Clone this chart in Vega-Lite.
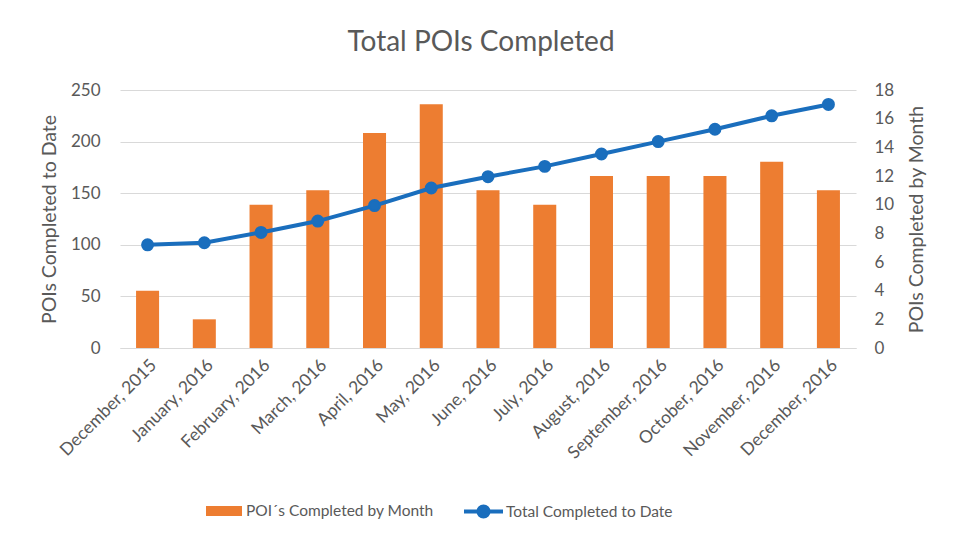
{
  "$schema": "https://vega.github.io/schema/vega-lite/v6.json",
  "width": 736,
  "height": 258,
  "autosize": {"type": "none"},
  "padding": {"left": 120, "top": 90, "right": 103, "bottom": 198},
  "background": "white",
  "config": {
    "font": "Lato",
    "view": {"stroke": null},
    "axis": {"labelFont": "Lato", "titleFont": "Lato", "labelColor": "#595959", "titleColor": "#595959", "titleFontWeight": "normal"}
  },
  "title": {"text": "Total POIs Completed", "fontSize": 28, "font": "Lato", "fontWeight": "normal", "color": "#595959", "offset": 24, "dx": -7},
  "data": {
    "values": [
      {"month": "December, 2015", "monthly": 4, "total": 100},
      {"month": "January, 2016", "monthly": 2, "total": 102},
      {"month": "February, 2016", "monthly": 10, "total": 112},
      {"month": "March, 2016", "monthly": 11, "total": 123},
      {"month": "April, 2016", "monthly": 15, "total": 138},
      {"month": "May, 2016", "monthly": 17, "total": 155},
      {"month": "June, 2016", "monthly": 11, "total": 166},
      {"month": "July, 2016", "monthly": 10, "total": 176},
      {"month": "August, 2016", "monthly": 12, "total": 188},
      {"month": "September, 2016", "monthly": 12, "total": 200},
      {"month": "October, 2016", "monthly": 12, "total": 212},
      {"month": "November, 2016", "monthly": 13, "total": 225},
      {"month": "December, 2016", "monthly": 11, "total": 236}
    ]
  },
  "encoding": {
    "x": {
      "field": "month", "type": "ordinal", "sort": null,
      "scale": {"paddingInner": 0.594, "paddingOuter": 0.283},
      "axis": {"title": null, "labelAngle": -45, "labelFontSize": 17.5, "labelPadding": 8, "ticks": false, "domainColor": "#d9d9d9", "domainWidth": 1, "grid": false}
    }
  },
  "layer": [
    {
      "mark": {"type": "bar", "color": "#ED7D31"},
      "encoding": {
        "y": {
          "field": "monthly", "type": "quantitative",
          "scale": {"domain": [0, 18], "nice": false},
          "axis": {"orient": "right", "title": "POIs Completed by Month", "titleAngle": -90, "titleBaseline": "top", "values": [0, 2, 4, 6, 8, 10, 12, 14, 16, 18], "grid": false, "domain": false, "ticks": false, "labelFontSize": 17, "labelPadding": 18, "titleFontSize": 19.5, "titlePadding": 14}
        },
        "fill": {
          "datum": "POI´s Completed by Month",
          "scale": {"range": ["#ED7D31"]},
          "legend": {"title": null, "orient": "none", "legendX": 86, "legendY": 403, "symbolType": "M-1,-0.28H1V0.28H-1Z", "symbolSize": 1296, "symbolStrokeWidth": 0, "labelFontSize": 15.5, "labelColor": "#595959", "labelOffset": 4, "labelFont": "Lato", "labelLimit": 400}
        }
      }
    },
    {
      "mark": {"type": "line", "color": "#1A6EBD", "strokeWidth": 4, "point": {"size": 120, "filled": true, "fill": "#1A6EBD"}},
      "encoding": {
        "y": {
          "field": "total", "type": "quantitative",
          "scale": {"domain": [0, 250], "nice": false},
          "axis": {"orient": "left", "title": "POIs Completed to Date", "values": [0, 50, 100, 150, 200, 250], "grid": true, "gridColor": "#d9d9d9", "gridWidth": 1, "domain": false, "ticks": false, "labelFontSize": 17, "labelPadding": 20, "titleFontSize": 19.5, "titlePadding": 11}
        },
        "stroke": {
          "datum": "Total Completed to Date",
          "scale": {"range": ["#1A6EBD"]},
          "legend": {"title": null, "orient": "none", "legendX": 342, "legendY": 400, "symbolType": "M-1,0H1M-0.26,0A0.26,0.26 0 1,0 0.26,0A0.26,0.26 0 1,0 -0.26,0Z", "symbolSize": 1521, "symbolStrokeWidth": 4, "symbolFillColor": "#1A6EBD", "labelFontSize": 15.5, "labelColor": "#595959", "labelOffset": 1, "labelFont": "Lato", "labelLimit": 400}
        }
      }
    }
  ],
  "resolve": {"scale": {"y": "independent", "fill": "independent", "stroke": "independent"}}
}
